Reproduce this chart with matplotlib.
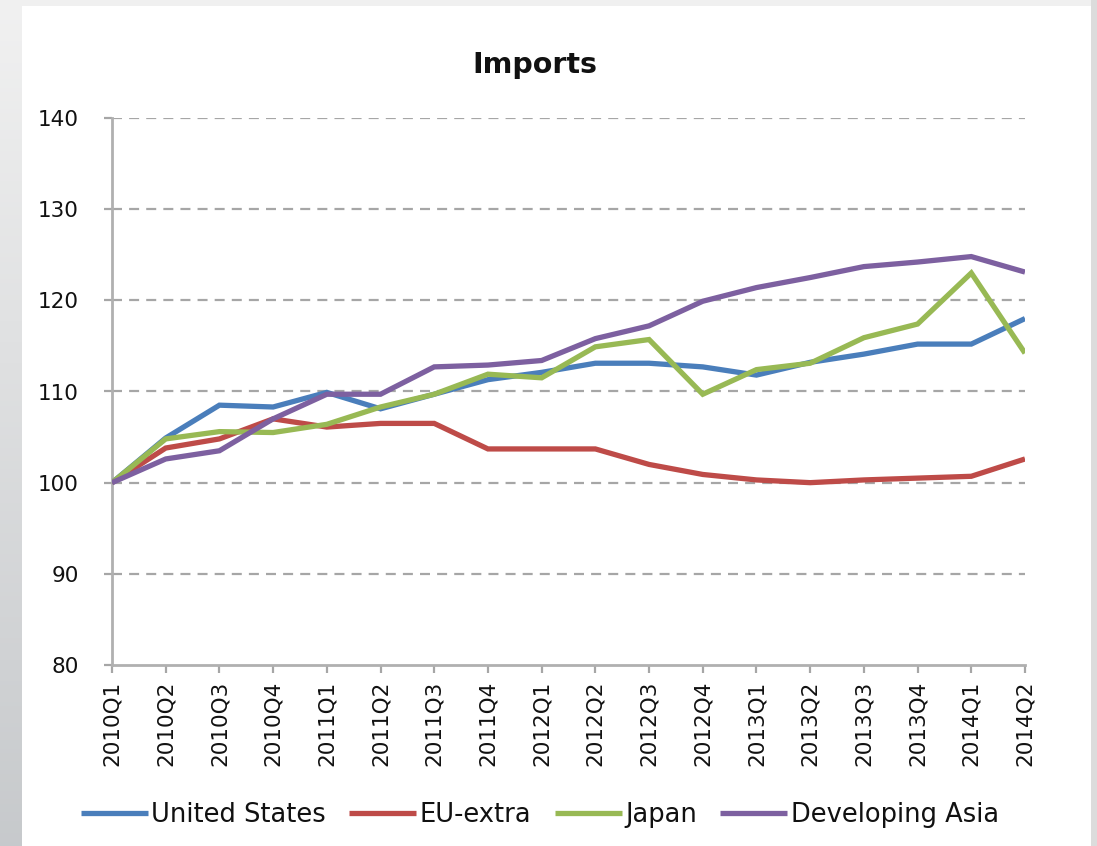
import numpy as np
import matplotlib.pyplot as plt
from matplotlib.patches import Rectangle

quarters = ['2010Q1', '2010Q2', '2010Q3', '2010Q4', '2011Q1', '2011Q2', '2011Q3',
            '2011Q4', '2012Q1', '2012Q2', '2012Q3', '2012Q4', '2013Q1', '2013Q2',
            '2013Q3', '2013Q4', '2014Q1', '2014Q2']

united_states = [100, 104.9, 108.5, 108.3, 109.9, 108.1, 109.7, 111.3, 112.1, 113.1,
                 113.1, 112.7, 111.8, 113.2, 114.1, 115.2, 115.2, 118.0]
eu_extra = [100, 103.8, 104.8, 107.0, 106.1, 106.5, 106.5, 103.7, 103.7, 103.7,
            102.0, 100.9, 100.3, 100.0, 100.3, 100.5, 100.7, 102.6]
japan = [100, 104.8, 105.6, 105.5, 106.4, 108.3, 109.7, 111.9, 111.5, 114.9,
         115.7, 109.7, 112.4, 113.1, 115.9, 117.4, 123.0, 114.2]
dev_asia = [100, 102.6, 103.5, 107.0, 109.7, 109.7, 112.7, 112.9, 113.4, 115.8,
            117.2, 119.9, 121.4, 122.5, 123.7, 124.2, 124.8, 123.1]

series = [('United States', united_states, '#4a7ebb'),
          ('EU-extra', eu_extra, '#be4b48'),
          ('Japan', japan, '#98b954'),
          ('Developing Asia', dev_asia, '#7d60a0')]

W, H = 1097, 846
fig = plt.figure(figsize=(W / 100, H / 100), dpi=100)

# grey slide background (lighter at the top) with a white chart panel
bg = fig.add_axes([0, 0, 1, 1], zorder=-2)
t = np.linspace(0, 1, 200)[:, None, None]
top = np.array([0.945, 0.945, 0.945])
bot = np.array([0.78, 0.79, 0.80])
grad = top * (1 - t) + bot * t
grad = np.repeat(grad, 2, axis=1)
bg.imshow(grad, aspect='auto', extent=[0, 1, 0, 1], origin='upper')
bg.add_patch(Rectangle((1091 / W, 0), 6 / W, 1, facecolor='#dcdcdc',
                       edgecolor='none'))
bg.add_patch(Rectangle((22 / W, 0), (1091 - 22) / W, 1 - 6 / H,
                       facecolor='white', edgecolor='none'))
bg.set_xlim(0, 1)
bg.set_ylim(0, 1)
bg.axis('off')

ax = fig.add_axes([112 / W, 1 - 665 / H, (1025 - 112) / W, (665 - 118) / H])
ax.patch.set_alpha(0)
x = np.arange(len(quarters))

for name, vals, col in series:
    ax.plot(x, vals, color=col, lw=3.8, label=name, solid_joinstyle='miter',
            solid_capstyle='butt', zorder=3)

ax.set_xlim(0, len(quarters) - 1)
ax.set_ylim(80, 140)
ax.set_yticks(range(80, 141, 10))
for v in range(90, 141, 10):
    ax.axhline(v, color='#a6a6a6', lw=1.6, ls=(0, (4.5, 3.2)), zorder=1)

ax.set_xticks(x)
ax.set_xticklabels(quarters, rotation=90, fontsize=15.5, color='#111111')
ax.tick_params(axis='y', labelsize=15.5, labelcolor='#111111', length=6,
               width=1.6, color='#a6a6a6', pad=18)
ax.tick_params(axis='x', length=6, width=1.6, color='#a6a6a6', pad=5)

for s in ['top', 'right']:
    ax.spines[s].set_visible(False)
for s in ['left', 'bottom']:
    ax.spines[s].set_color('#b0b0b0')
    ax.spines[s].set_linewidth(2)

fig.text(535 / W, 1 - 65 / H, 'Imports', ha='center', va='center',
         fontsize=20.5, fontweight='bold', color='#111111')

fig.legend(loc='center', bbox_to_anchor=(540 / W, 1 - 815 / H), ncol=4,
           frameon=False, fontsize=18.5, handlelength=2.6, handletextpad=0.15,
           columnspacing=0.9, labelcolor='#111111')

fig.savefig('out.png', dpi=100)
